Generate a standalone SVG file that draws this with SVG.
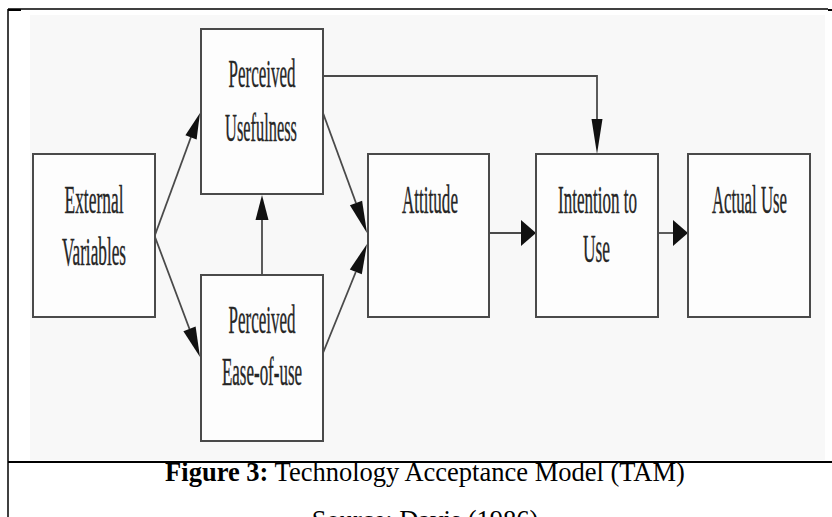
<svg xmlns="http://www.w3.org/2000/svg" width="832" height="517" viewBox="0 0 832 517">
<style>
.frame{stroke:#000;fill:none}
.box{fill:#fdfdfd;stroke:#4a4a4a;stroke-width:2}
.lbl{font-family:"Liberation Serif","Times New Roman",serif;font-size:40px;fill:#262626;stroke:#262626;stroke-width:0.4;text-anchor:middle}
.ln{stroke:#4a4a4a;stroke-width:1.8;fill:none}
.hd{fill:#111;stroke:none}
.cap{font-family:"Liberation Serif","Times New Roman",serif;font-size:26.5px;fill:#000;text-anchor:middle}
</style>
<rect x="0" y="0" width="832" height="517" fill="#ffffff"/>
<rect x="30" y="15" width="795" height="445" fill="#f8f8f8"/>
<g id="frame">
<line class="frame" x1="8" y1="9" x2="828" y2="9" stroke-width="1.5"/>
<line class="frame" x1="8" y1="9" x2="8" y2="517" stroke-width="1.5"/>
<line class="frame" x1="8" y1="462" x2="832" y2="462" stroke-width="2.2"/>
<line class="frame" x1="8" y1="10" x2="21" y2="10" stroke-width="2"/>
<line class="frame" x1="828" y1="10" x2="832" y2="10" stroke-width="2"/>
</g>
<g id="connectors">
<line class="ln" x1="155" y1="235" x2="191" y2="137"/>
<polygon class="hd" points="200,113 196.6,139.5 185.4,135.3"/>
<line class="ln" x1="155" y1="237" x2="189.5" y2="329"/>
<polygon class="hd" points="200,357 195.6,326.6 183.4,331.2"/>
<line class="ln" x1="323" y1="113" x2="356" y2="203"/>
<polygon class="hd" points="367,233 362.1,200.8 349.9,205.2"/>
<line class="ln" x1="323" y1="353" x2="355.8" y2="272"/>
<polygon class="hd" points="367,244 361.8,274.2 349.8,269.4"/>
<line class="ln" x1="262" y1="275" x2="262" y2="220"/>
<polygon class="hd" points="262,195 255.5,220 268.5,220"/>
<polyline class="ln" points="323,76 597,76 597,120"/>
<polygon class="hd" points="597,154 591.5,119 602.5,119"/>
<line class="ln" x1="489" y1="233" x2="522" y2="233"/>
<polygon class="hd" points="536,233 521,220 521,246"/>
<line class="ln" x1="658" y1="233" x2="673" y2="233"/>
<polygon class="hd" points="688,233 673,220 673,246"/>
</g>
<g id="external-variables">
<rect class="box" x="33" y="154" width="122" height="163"/>
<text class="lbl" transform="translate(94 213) scale(0.435 1)">External</text>
<text class="lbl" transform="translate(94 265) scale(0.431 1)">Variables</text>
</g>
<g id="perceived-usefulness">
<rect class="box" x="201" y="29" width="122" height="165"/>
<text class="lbl" transform="translate(262 87) scale(0.425 1)">Perceived</text>
<text class="lbl" transform="translate(261 141) scale(0.41 1)">Usefulness</text>
</g>
<g id="perceived-ease-of-use">
<rect class="box" x="201" y="275" width="122" height="166"/>
<text class="lbl" transform="translate(262 333) scale(0.425 1)">Perceived</text>
<text class="lbl" transform="translate(262 385) scale(0.424 1)">Ease-of-use</text>
</g>
<g id="attitude">
<rect class="box" x="368" y="154" width="121" height="163"/>
<text class="lbl" transform="translate(430 213) scale(0.427 1)">Attitude</text>
</g>
<g id="intention-to-use">
<rect class="box" x="536" y="154" width="122" height="163"/>
<text class="lbl" transform="translate(597.5 213) scale(0.426 1)">Intention to</text>
<text class="lbl" transform="translate(596.5 262) scale(0.434 1)">Use</text>
</g>
<g id="actual-use">
<rect class="box" x="688" y="154" width="122" height="163"/>
<text class="lbl" transform="translate(749.5 213) scale(0.42 1)">Actual Use</text>
</g>
<g id="caption">
<text class="cap" x="425" y="481"><tspan font-weight="bold">Figure 3:</tspan> Technology Acceptance Model (TAM)</text>
<text class="cap" x="425" y="529">Source: Davis (1986)</text>
</g>
</svg>
